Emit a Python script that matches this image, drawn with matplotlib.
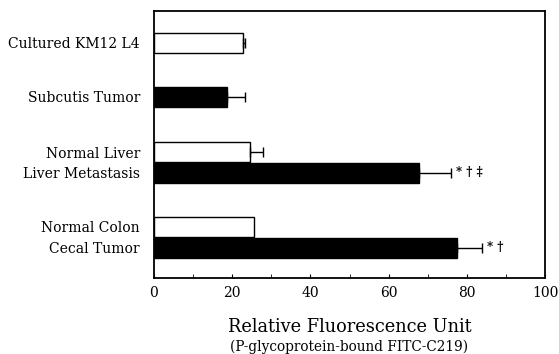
import matplotlib
matplotlib.use("Agg")
import matplotlib.pyplot as plt

labels = ["Cultured KM12 L4", "Subcutis Tumor", "Normal Liver",
          "Liver Metastasis", "Normal Colon", "Cecal Tumor"]
values = [22.8, 18.7, 24.6, 67.8, 25.6, 77.5]
errors = [0.4, 4.6, 3.3, 8.2, 0.0, 6.4]
fills = ["white", "black", "white", "black", "white", "black"]
positions = [1.6, 4.28, 7.05, 8.08, 10.8, 11.83]
marks = ["", "", "", "* \u2020 \u2021", "", "* \u2020"]
xticks = [0, 20, 40, 60, 80, 100]

plt.rcParams['font.family'] = ['DejaVu Serif']
fig = plt.figure(figsize=(5.59, 3.54), dpi=100)
ax = fig.add_axes([154/559, 1-278/354, (545-154)/559, (278-11)/354])

for p, v, e, c, m in zip(positions, values, errors, fills, marks):
    ax.barh(p, v, height=1.0, color=c, edgecolor="black", linewidth=1.0, zorder=2)
    if e > 0:
        ax.errorbar(v, p, xerr=[[0], [e]], fmt="none", ecolor="black",
                    elinewidth=1.0, capsize=3.6, capthick=1.0, zorder=3)
    if m:
        ax.text(v + e + 1.2, p, m, va="center", ha="left", fontsize=8.5,
                fontweight="bold")

ax.set_xlim(0, 100)
ax.set_ylim(13.35, 0)
ax.set_xticks(xticks)
ax.set_xticks(range(0, 101, 10), minor=True)
ax.tick_params(axis="x", which="both", direction="in", length=3, labelsize=10, pad=6)
ax.set_yticks(positions)
ax.set_yticklabels(labels, fontsize=10)
ax.tick_params(axis="y", direction="in", length=2, pad=10)
for s in ax.spines.values():
    s.set_linewidth(1.3)

fig.text(350/559, 1-327/354, "Relative Fluorescence Unit", ha="center",
         va="center", fontsize=12.8)
fig.text(349/559, 1-347/354, "(P-glycoprotein-bound FITC-C219)", ha="center",
         va="center", fontsize=9.8)

fig.savefig("out.png", dpi=100)
